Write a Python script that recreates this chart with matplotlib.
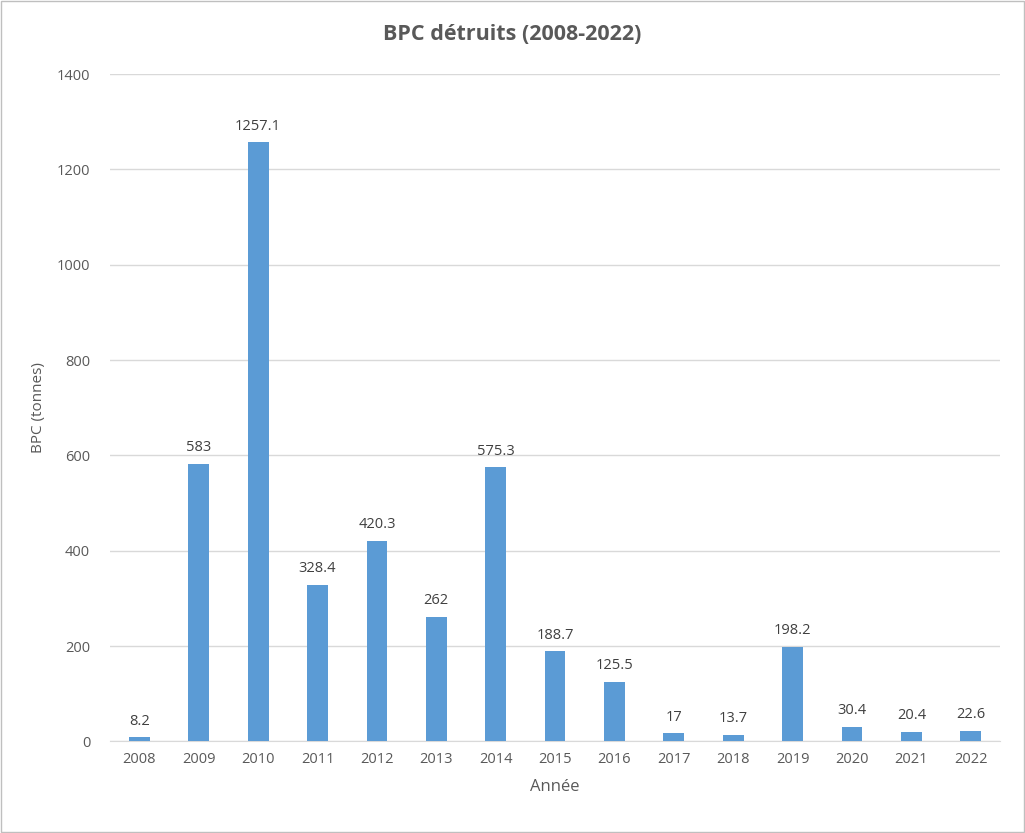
import matplotlib
matplotlib.use("Agg")
import matplotlib.pyplot as plt

years = ["2008","2009","2010","2011","2012","2013","2014","2015","2016","2017","2018","2019","2020","2021","2022"]
values = [8.2,583,1257.1,328.4,420.3,262,575.3,188.7,125.5,17,13.7,198.2,30.4,20.4,22.6]
labels = ["8.2","583","1257.1","328.4","420.3","262","575.3","188.7","125.5","17","13.7","198.2","30.4","20.4","22.6"]

plt.rcParams['font.family'] = ['Open Sans', 'DejaVu Sans']
fig = plt.figure(figsize=(10.25, 8.33), dpi=100)
ax = fig.add_axes([0.107, 0.110, 0.869, 0.801])
x = range(len(years))
ax.bar(x, values, width=0.35, color="#5B9BD5", zorder=3)
for i, (v, l) in enumerate(zip(values, labels)):
    ax.text(i, v + 18, l, ha="center", va="bottom", fontsize=10.5, color="#404040")
ax.set_xticks(list(x))
ax.set_xticklabels(years, fontsize=10.5, color="#595959")
ax.set_xlim(-0.5, len(years) - 0.5)
ax.set_ylim(0, 1400)
ax.set_yticks(range(0, 1401, 200))
ax.tick_params(axis='y', labelsize=10.5, colors="#595959", length=0, pad=14)
ax.tick_params(axis='x', length=0, pad=8)
ax.grid(axis='y', color="#D9D9D9", linewidth=1, zorder=0)
for s in ["top", "right", "left"]:
    ax.spines[s].set_visible(False)
ax.spines["bottom"].set_color("#D9D9D9")
ax.set_xlabel("Année", fontsize=12, color="#595959", labelpad=8)
ax.set_ylabel("BPC (tonnes)", fontsize=11, color="#595959", labelpad=8)
fig.text(0.5, 0.958, "BPC détruits (2008-2022)", ha="center", va="center",
         fontsize=15.5, fontweight="bold", color="#595959")
fig.patches.append(plt.Rectangle((0.001, 0.001), 0.998, 0.998, transform=fig.transFigure,
                                 fill=False, edgecolor="#BFBFBF", linewidth=1))
fig.savefig("out.png", dpi=100)
